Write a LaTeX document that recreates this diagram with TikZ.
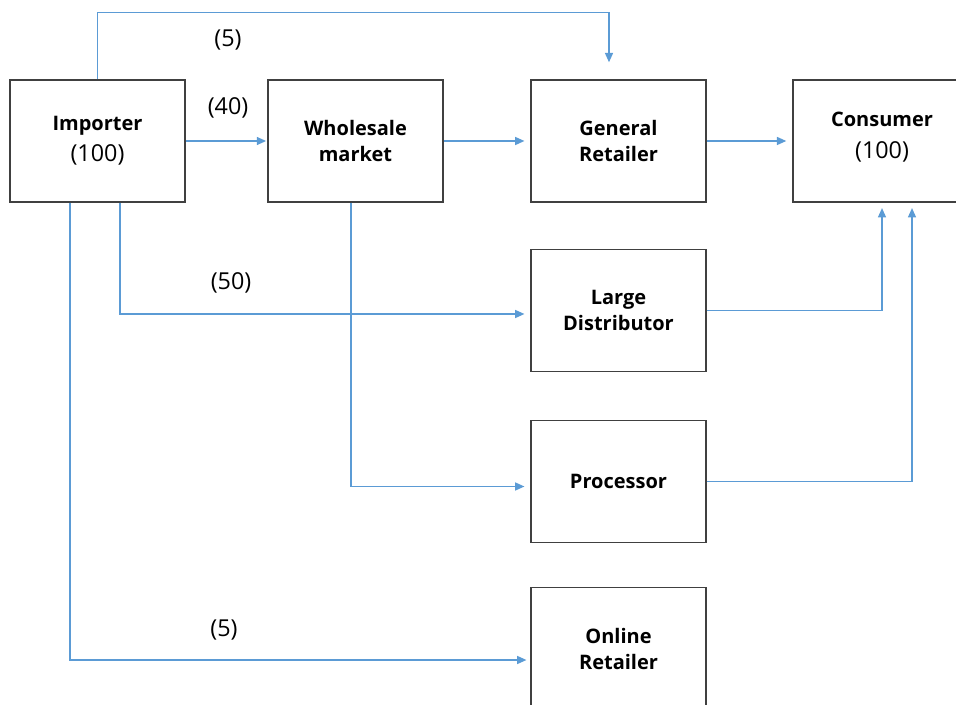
\documentclass[tikz,border=0pt]{standalone}
\usepackage{fontspec}
\setmainfont{Open Sans}
\usetikzlibrary{arrows.meta,calc}
\begin{document}
\begin{tikzpicture}[x=0.75pt,y=-0.75pt,
  box/.style={draw=black!75,line width=1.1pt,minimum width=131pt,minimum height=91.5pt,align=center,font=\bfseries\fontsize{15}{19.5}\selectfont},
  flow/.style={draw={rgb,255:red,91;green,155;blue,213},line width=1.1pt,-{Triangle[length=7pt,width=6pt]}},
  qty/.style={font=\fontsize{17.5}{21}\selectfont}]
\useasboundingbox (0,0) rectangle (956,705);
\clip (0,0) rectangle (956,705);
\node [box] (imp) at (97.5,141) {Importer\\[4pt]{\mdseries\fontsize{17.5}{21}\selectfont (100)}};
\node [box] (whs) at (355.5,141) {Wholesale\\market};
\node [box] (gen) at (618.5,141) {General\\Retailer};
\node [box,minimum width=150pt] (con) at (893,141) {};
\node (cont) at (882,137) [align=center,font=\bfseries\fontsize{15}{19.5}\selectfont] {Consumer\\[4pt]{\mdseries\fontsize{17.5}{21}\selectfont (100)}};
\node [box] (lrg) at (618.5,310.5) {Large\\Distributor};
\node [box] (pro) at (618.5,481.5) {Processor};
\node [box] (onl) at (618.5,648.5) {Online\\Retailer};
\node [qty] (q5a) at (228,40) {(5)};
\node [qty] (q40) at (228,108) {(40)};
\node [qty] (q50) at (231,283) {(50)};
\node [qty] (q5b) at (224,630) {(5)};
\draw [flow,shorten >=17pt*0.75] (imp.north) -- ++(0,-67) -| ($(gen.north)+(-9.5,0)$);
\draw [flow,shorten >=1pt] (imp.east) -- (whs.west);
\draw [flow,shorten >=4.5pt] (whs.east) -- (gen.west);
\draw [flow,shorten >=4.5pt] (gen.east) -- (con.west);
\draw [flow,shorten >=4.5pt] ($(imp.south)+(22.5,0)$) |- ($(lrg.west)+(0,3.5)$);
\draw [flow,shorten >=3pt] ($(imp.south)+(-27.5,0)$) |- ($(onl.west)+(0,11.5)$);
\draw [flow,shorten >=4.5pt] ($(whs.south)+(-4.5,0)$) |- ($(pro.west)+(0,5)$);
\draw [flow,shorten >=4pt] (lrg.east) -| ($(con.south)+(-11,0)$);
\draw [flow,shorten >=4pt] (pro.east) -| ($(con.south)+(19,0)$);
\end{tikzpicture}
\end{document}
